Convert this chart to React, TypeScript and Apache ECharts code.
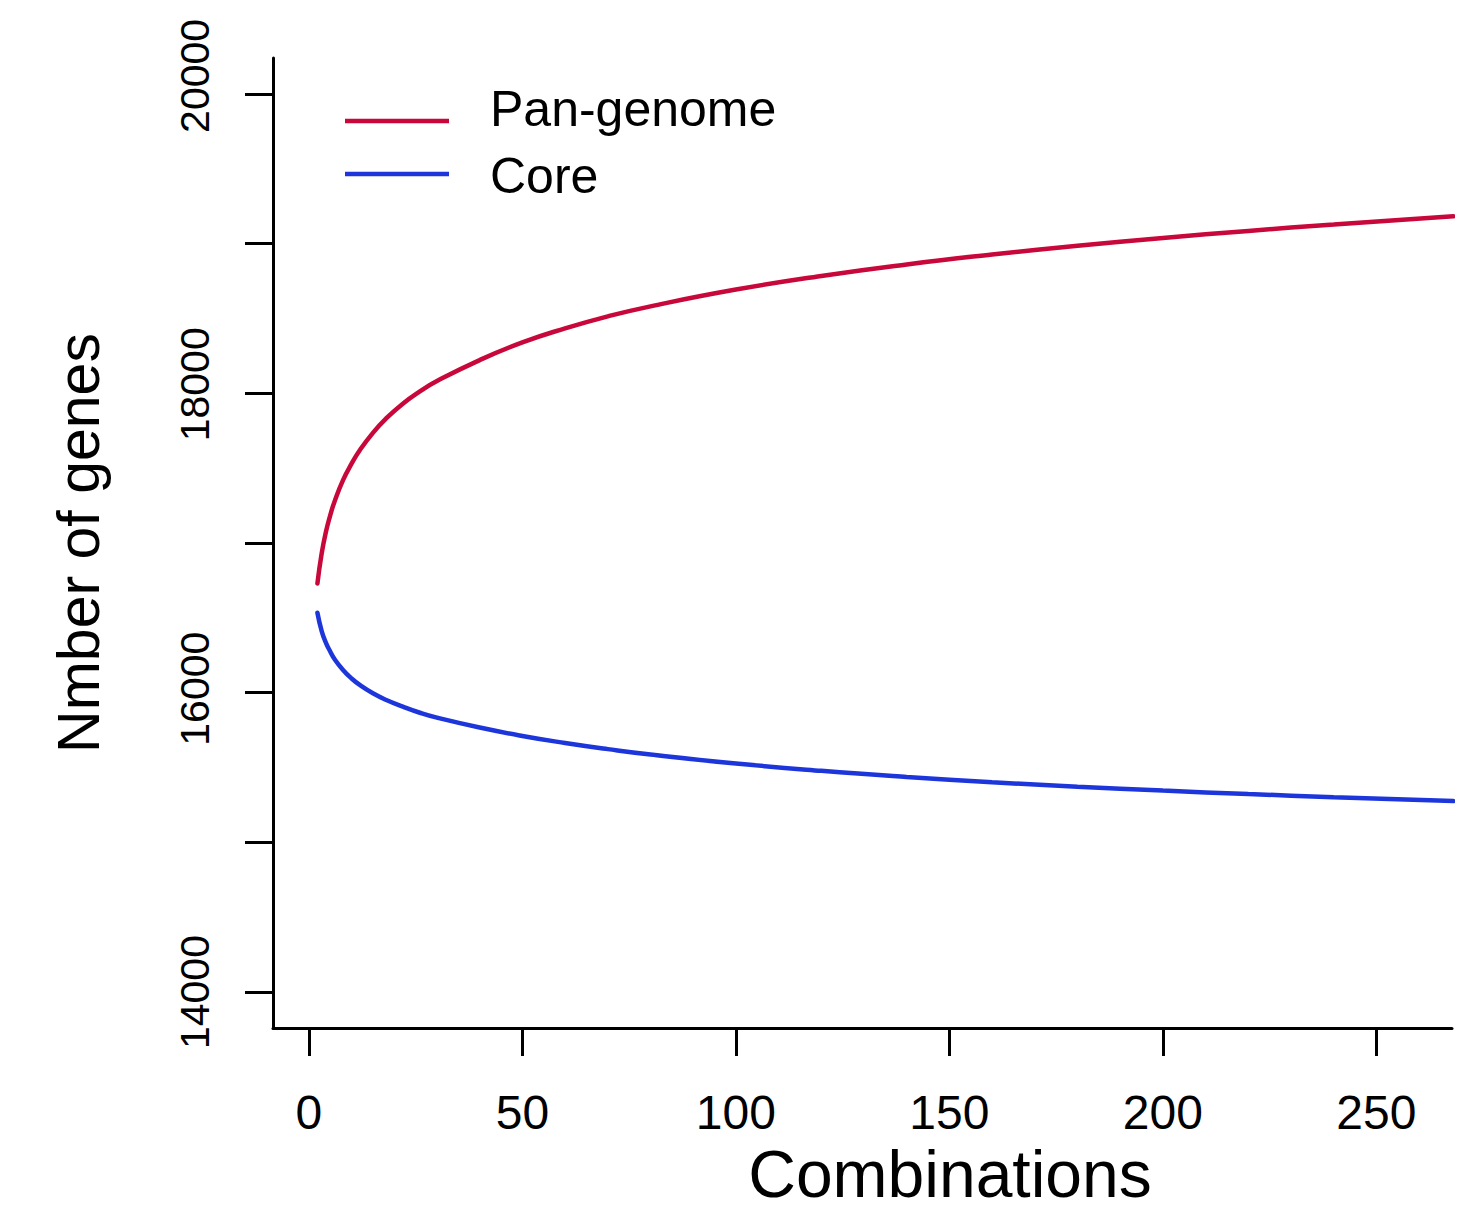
import React, { useEffect, useRef } from "react";
import * as echarts from "echarts";

const seriesNames = ["Pan-genome", "Core"];
const seriesColors = ["#C8073A", "#1D36DC"];

const panX = [2, 3, 4, 5, 6, 8, 10, 12, 15, 18, 22, 26, 30, 40, 50, 60, 70, 80, 100, 120, 140, 160, 180, 200, 220, 240, 268];
const panY = [16730, 16930, 17075, 17185, 17276, 17420, 17530, 17623, 17736, 17829, 17931, 18013, 18082, 18222, 18340, 18434, 18514, 18581, 18693, 18784, 18861, 18927, 18986, 19038, 19085, 19128, 19183];

const coreX = [2, 3, 4, 5, 6, 8, 10, 12, 15, 18, 22, 26, 30, 40, 50, 60, 70, 80, 100, 120, 140, 160, 180, 200, 220, 240, 268];
const coreY = [16534, 16412, 16333, 16275, 16225, 16152, 16095, 16050, 15996, 15953, 15907, 15866, 15833, 15767, 15711, 15664, 15623, 15587, 15527, 15478, 15437, 15402, 15372, 15346, 15323, 15302, 15276];

const xTicks = [0, 50, 100, 150, 200, 250];
const yTicks = [14000, 15000, 16000, 17000, 18000, 19000, 20000];
const yTickLabels = [14000, 16000, 18000, 20000];

const xTitle = "Combinations";
const yTitle = "Nmber of genes";

const FONT = "'Liberation Sans', Arial, Helvetica, sans-serif";

export default function App() {
  const ref = useRef<HTMLDivElement>(null);

  useEffect(() => {
    document.body.style.margin = "0";
    document.documentElement.style.overflow = "hidden";
    if (!ref.current) return;
    const chart = echarts.init(ref.current, null, { renderer: "svg" });

    const toPairs = (xs: number[], ys: number[]) => xs.map((x, i) => [x, ys[i]]);

    const yLabelBase = { fontFamily: FONT, fontSize: 41, color: "#000" };
    // small shifts along the axis so the rotated labels sit where the reference prints them
    const yLabelShift: Record<string, number> = { "14000": 0, "16000": 8, "18000": 18, "20000": 36 };
    const yRich: Record<string, any> = {};
    yTickLabels.forEach((v) => {
      yRich["l" + v] = { ...yLabelBase, padding: [0, 0, 0, yLabelShift[String(v)] || 0] };
    });

    const option: any = {
      animation: false,
      backgroundColor: "#ffffff",
      grid: {
        left: 273,
        top: 58,
        width: 1179,
        height: 970,
        containLabel: false,
        outerBoundsMode: "none",
      },
      xAxis: {
        type: "value",
        min: -8.4,
        max: 267.7,
        name: xTitle,
        nameLocation: "middle",
        nameGap: 112,
        nameTextStyle: {
          fontFamily: FONT,
          fontSize: 66,
          color: "#000",
          padding: [0, 0, 0, 175],
        },
        axisLine: { show: true, onZero: false, lineStyle: { color: "#000", width: 3 } },
        axisTick: {
          show: true,
          customValues: xTicks,
          length: 28,
          lineStyle: { color: "#000", width: 3 },
        },
        axisLabel: {
          customValues: xTicks,
          fontFamily: FONT,
          fontSize: 48,
          color: "#000",
          margin: 60,
          formatter: (v: number) => String(v),
        },
        splitLine: { show: false },
      },
      yAxis: {
        type: "value",
        min: 13760,
        max: 20240,
        name: yTitle,
        nameLocation: "middle",
        nameGap: 165,
        nameRotate: 90,
        nameTextStyle: { fontFamily: FONT, fontSize: 59, color: "#000" },
        axisLine: { show: true, onZero: false, lineStyle: { color: "#000", width: 3 } },
        axisTick: {
          show: true,
          customValues: yTicks,
          length: 28,
          lineStyle: { color: "#000", width: 3 },
        },
        axisLabel: {
          customValues: yTickLabels,
          rotate: 90,
          ...yLabelBase,
          margin: 58,
          formatter: (v: number) => "{l" + v + "|" + String(v) + "}",
          rich: yRich,
        },
        splitLine: { show: false },
      },
      series: [
        {
          name: seriesNames[0],
          type: "line",
          data: toPairs(panX, panY),
          smooth: 0.5,
          showSymbol: false,
          symbol: "none",
          clip: true,
          lineStyle: { color: seriesColors[0], width: 4.5, cap: "round" },
        },
        {
          name: seriesNames[1],
          type: "line",
          data: toPairs(coreX, coreY),
          smooth: 0.5,
          showSymbol: false,
          symbol: "none",
          clip: true,
          lineStyle: { color: seriesColors[1], width: 4.5, cap: "round" },
        },
      ],
      graphic: [
        {
          type: "line",
          shape: { x1: 345, y1: 121, x2: 449, y2: 121 },
          style: { stroke: seriesColors[0], lineWidth: 4.5 },
        },
        {
          type: "line",
          shape: { x1: 345, y1: 174, x2: 449, y2: 174 },
          style: { stroke: seriesColors[1], lineWidth: 4.5 },
        },
        {
          type: "text",
          x: 490,
          y: 109,
          style: {
            text: seriesNames[0],
            fontFamily: FONT,
            fontSize: 50,
            fill: "#000",
            textAlign: "left",
            textVerticalAlign: "middle",
            verticalAlign: "middle",
          },
        },
        {
          type: "text",
          x: 490,
          y: 176,
          style: {
            text: seriesNames[1],
            fontFamily: FONT,
            fontSize: 50,
            fill: "#000",
            textAlign: "left",
            textVerticalAlign: "middle",
            verticalAlign: "middle",
          },
        },
      ],
    };

    chart.setOption(option);
    return () => chart.dispose();
  }, []);

  return <div ref={ref} style={{ width: 1465, height: 1212 }} />;
}
